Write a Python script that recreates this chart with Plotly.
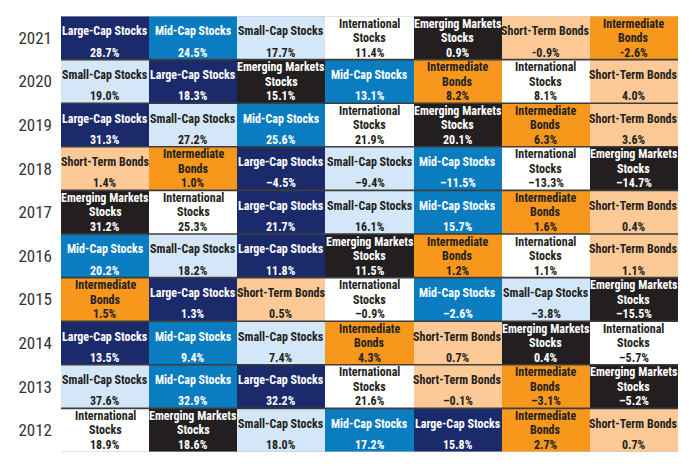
import plotly.graph_objects as go

# Годы (сверху вниз) и ранжированные классы активов с доходностью
years = [2021, 2020, 2019, 2018, 2017, 2016, 2015, 2014, 2013, 2012]

ranked_assets = [
    ["Large-Cap", "Mid-Cap", "Small-Cap", "International", "Emerging", "Short-Term", "Intermediate"],
    ["Small-Cap", "Large-Cap", "Emerging", "Mid-Cap", "Intermediate", "International", "Short-Term"],
    ["Large-Cap", "Small-Cap", "Mid-Cap", "International", "Emerging", "Intermediate", "Short-Term"],
    ["Short-Term", "Intermediate", "Large-Cap", "Small-Cap", "Mid-Cap", "International", "Emerging"],
    ["Emerging", "International", "Large-Cap", "Small-Cap", "Mid-Cap", "Intermediate", "Short-Term"],
    ["Mid-Cap", "Small-Cap", "Large-Cap", "Emerging", "Intermediate", "International", "Short-Term"],
    ["Intermediate", "Large-Cap", "Short-Term", "International", "Mid-Cap", "Small-Cap", "Emerging"],
    ["Large-Cap", "Mid-Cap", "Small-Cap", "Intermediate", "Short-Term", "Emerging", "International"],
    ["Small-Cap", "Mid-Cap", "Large-Cap", "International", "Short-Term", "Intermediate", "Emerging"],
    ["International", "Emerging", "Small-Cap", "Mid-Cap", "Large-Cap", "Intermediate", "Short-Term"],
]

ranked_returns = [
    [28.7, 24.5, 17.7, 11.4, 0.9, -0.9, -2.6],
    [19.0, 18.3, 15.1, 13.1, 8.2, 8.1, 4.0],
    [31.3, 27.2, 25.6, 21.9, 20.1, 6.3, 3.6],
    [1.4, 1.0, -4.5, -9.4, -11.5, -13.3, -14.7],
    [31.2, 25.3, 21.7, 16.1, 15.7, 1.6, 0.4],
    [20.2, 18.2, 11.8, 11.5, 1.2, 1.1, 1.1],
    [1.5, 1.3, 0.5, -0.9, -2.6, -3.8, -15.5],
    [13.5, 9.4, 7.4, 4.3, 0.7, 0.4, -5.7],
    [37.6, 32.9, 32.2, 21.6, -0.1, -3.1, -5.2],
    [18.9, 18.6, 18.0, 17.2, 15.8, 2.7, 0.7],
]

asset_keys = ["Large-Cap", "Mid-Cap", "Small-Cap", "International", "Emerging", "Short-Term", "Intermediate"]
asset_labels = {
    "Large-Cap": ["Large-Cap Stocks"],
    "Mid-Cap": ["Mid-Cap Stocks"],
    "Small-Cap": ["Small-Cap Stocks"],
    "International": ["International", "Stocks"],
    "Emerging": ["Emerging Markets", "Stocks"],
    "Short-Term": ["Short-Term Bonds"],
    "Intermediate": ["Intermediate", "Bonds"],
}
asset_colors = ["#1b2a6b", "#0a7cc0", "#d3e7f8", "#ffffff", "#231f20", "#fdca97", "#f7981d"]
dark_fill = {"Large-Cap", "Mid-Cap", "Emerging"}

# В 2021 году минус набран дефисом, в остальных — тире
hyphen_years = {2021}

# Дискретная шкала цветов для категорий
n = len(asset_keys)
colorscale = []
for k, c in enumerate(asset_colors):
    colorscale.append([k / n, c])
    colorscale.append([(k + 1) / n, c])

z = [[asset_keys.index(a) for a in row] for row in ranked_assets]

fig = go.Figure(go.Heatmap(
    z=z,
    x=list(range(7)),
    y=list(range(len(years))),
    colorscale=colorscale,
    zmin=-0.5,
    zmax=n - 0.5,
    showscale=False,
    hoverinfo="skip",
))

font_cell = "Roboto Condensed, Open Sans Condensed, sans-serif"
annotations = []
for i, yr in enumerate(years):
    for j, a in enumerate(ranked_assets[i]):
        color = "#ffffff" if a in dark_fill else "#231f20"
        lines = asset_labels[a]
        shifts = [6.5] if len(lines) == 1 else [14.3, -0.2]
        for line, sh in zip(lines, shifts):
            annotations.append(dict(
                x=j, y=i, text="<b>" + line + "</b>", showarrow=False,
                yshift=sh, font=dict(family=font_cell, size=12, color=color),
            ))
        v = ranked_returns[i][j]
        minus = "-" if yr in hyphen_years else "\u2013"
        txt = (minus if v < 0 else "") + f"{abs(v):.1f}%"
        annotations.append(dict(
            x=j, y=i, text="<b>" + txt + "</b>", showarrow=False,
            yshift=-14.7, font=dict(family=font_cell, size=12, color=color),
        ))

# Разделительные линии между строками
shapes = []
for i in range(len(years) - 1):
    shapes.append(dict(type="line", xref="paper", x0=0, x1=1, y0=i + 0.5, y1=i + 0.5,
                       line=dict(color="#3d3d3d", width=1.6), layer="above"))
for yb in (-0.5, len(years) - 0.5):
    shapes.append(dict(type="line", xref="paper", x0=0, x1=1, y0=yb, y1=yb,
                       line=dict(color="#c8c8c8", width=1.2), layer="above"))

fig.update_layout(
    width=700,
    height=468,
    margin=dict(l=53, r=30, t=8, b=24),
    paper_bgcolor="white",
    plot_bgcolor="white",
    annotations=annotations,
    shapes=shapes,
    xaxis=dict(range=[-0.5, 6.5], showticklabels=False, showgrid=False, zeroline=False, fixedrange=True),
    yaxis=dict(
        range=[len(years) - 0.5, -0.5],
        tickvals=list(range(len(years))),
        ticktext=[str(y) for y in years],
        tickfont=dict(family="Roboto Condensed, Open Sans Condensed, sans-serif",
                      size=17, color="#333333"),
        ticks="",
        ticklabelstandoff=8,
        showgrid=False,
        zeroline=False,
        fixedrange=True,
    ),
)

fig.write_html("out.html")
